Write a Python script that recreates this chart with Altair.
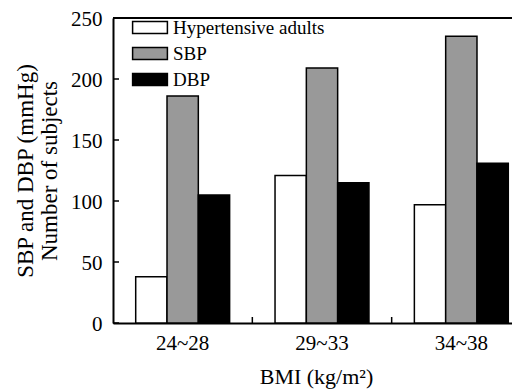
import altair as alt
import pandas as pd

categories = ["24~28", "29~33", "34~38"]
series = ["Hypertensive adults", "SBP", "DBP"]
hypertensive = [38, 121, 97]
sbp = [186, 209, 235]
dbp = [105, 115, 131]
y_ticks = [0, 50, 100, 150, 200, 250]
colors = ["#ffffff", "#999999", "#000000"]

rows = []
for i, c in enumerate(categories):
    for s, vals in zip(series, [hypertensive, sbp, dbp]):
        rows.append({"BMI": c, "series": s, "value": vals[i]})
df = pd.DataFrame(rows)

W = 418
H = 305
FONT = "Liberation Serif"

x_scale = alt.Scale(domain=categories, paddingInner=0, paddingOuter=0)
y_scale = alt.Scale(domain=[0, 250], nice=False)

x_axis = alt.Axis(ticks=False, grid=False, domainColor="black", domainWidth=2,
                  labelFont=FONT, labelFontSize=21, labelColor="black",
                  labelPadding=9, labelAngle=0,
                  title="BMI (kg/m²)", titleFont=FONT, titleFontSize=22,
                  titleFontWeight="normal", titleColor="black", titlePadding=13,
                  titleX=203, titleAlign="center")
y_axis = alt.Axis(values=y_ticks, ticks=False, grid=False, domainColor="black",
                  domainWidth=2, labelFont=FONT, labelFontSize=21,
                  labelColor="black", labelPadding=11, labelFlush=False,
                  labelOverlap=False, labelOffset=1.5,
                  title=["SBP and DBP (mmHg)", "Number of subjects"],
                  titleFont=FONT, titleFontSize=23, titleFontWeight="normal",
                  titleColor="black", titleLineHeight=24, titlePadding=9)

bars = alt.Chart(df).mark_bar(stroke="black", strokeWidth=1.5).encode(
    x=alt.X("BMI:N", scale=x_scale, sort=categories, axis=x_axis),
    xOffset=alt.XOffset("series:N", sort=series,
                        scale=alt.Scale(domain=series, paddingInner=0, paddingOuter=0.725)),
    y=alt.Y("value:Q", scale=y_scale, axis=y_axis),
    fill=alt.Fill("series:N", sort=series,
                  scale=alt.Scale(domain=series, range=colors),
                  legend=alt.Legend(orient="none", legendX=27.5, legendY=0, title=None,
                                    symbolType="M-2.9,-1H2.9V1H-2.9Z", symbolSize=144,
                                    symbolStrokeColor="black", symbolStrokeWidth=1.5,
                                    labelFont=FONT, labelFontSize=19, labelColor="black",
                                    labelOffset=13.5, rowPadding=6, padding=0)),
)

top_line = alt.Chart(pd.DataFrame({"v": [0]})).mark_rule(color="black", strokeWidth=2).encode(
    x=alt.value(0), x2=alt.value(W), y=alt.value(0)
)

y_tick_marks = alt.Chart(pd.DataFrame({"value": y_ticks})).mark_rule(color="black", strokeWidth=1.5).encode(
    y=alt.Y("value:Q", scale=y_scale), x=alt.value(0), x2=alt.value(6)
)

x_tick_marks = alt.Chart(pd.DataFrame({"BMI": categories[1:]})).mark_rule(color="black", strokeWidth=1.5).encode(
    x=alt.X("BMI:N", sort=categories, bandPosition=0),
    y=alt.value(H), y2=alt.value(H - 6)
)

chart = alt.layer(bars, top_line, y_tick_marks, x_tick_marks).properties(
    width=W, height=H,
    autosize=alt.AutoSizeParams(type="none"),
    padding={"left": 105, "top": 10, "right": -19, "bottom": 66},
).configure_view(stroke=None)

chart.save("out.html", embed_options={"renderer": "svg", "actions": False})
